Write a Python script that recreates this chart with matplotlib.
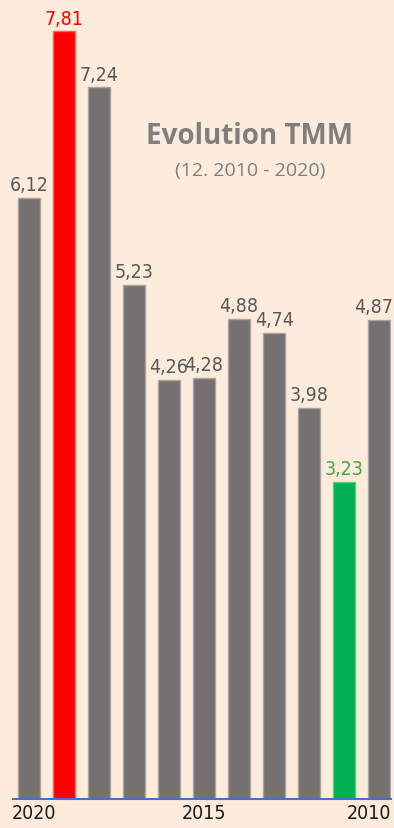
import matplotlib
matplotlib.use("Agg")
import matplotlib.pyplot as plt
from matplotlib.transforms import ScaledTranslation

years = ["2020", "", "", "", "", "2015", "", "", "", "", "2010"]
values = [6.12, 7.81, 7.24, 5.23, 4.26, 4.28, 4.88, 4.74, 3.98, 3.23, 4.87]
labels = ["6,12", "7,81", "7,24", "5,23", "4,26", "4,28", "4,88", "4,74", "3,98", "3,23", "4,87"]
bar_colors = ["#767171", "#FF0000", "#767171", "#767171", "#767171", "#767171",
              "#767171", "#767171", "#767171", "#00B050", "#767171"]
label_colors = ["#595959", "#FF0000", "#595959", "#595959", "#595959", "#595959",
                "#595959", "#595959", "#595959", "#3DAE3D", "#595959"]
edge_colors = ["#A6A6A6", "#FF6060", "#A6A6A6", "#A6A6A6", "#A6A6A6", "#A6A6A6",
               "#A6A6A6", "#A6A6A6", "#A6A6A6", "#50D080", "#A6A6A6"]

bg = "#FDECDC"
narrow = ["DejaVu Sans"]

fig = plt.figure(figsize=(3.94, 8.29), dpi=100, facecolor=bg)
ax = fig.add_axes([13/394, (829-800)/829, (391-13)/394, 800/829])
ax.set_facecolor(bg)

x = list(range(len(values)))
ax.bar(x, values, width=0.63, color=bar_colors, edgecolor=edge_colors, linewidth=1.0, zorder=2)
for i, (xi, v, lab, c) in enumerate(zip(x, values, labels, label_colors)):
    t = ax.text(xi, v + 0.04, lab, ha="center", va="bottom", fontsize=14, color=c,
                family=narrow, fontstretch="condensed", clip_on=False)
    if i == len(values) - 1:
        t.set_transform(ax.transData + ScaledTranslation(-5/100, 0, fig.dpi_scale_trans))

ax.set_xlim(-0.457, 10.34)
ax.set_ylim(0, 8.14)
for s in ["top", "right", "left"]:
    ax.spines[s].set_visible(False)
ax.spines["bottom"].set_color("#4472C4")
ax.spines["bottom"].set_linewidth(1.5)
ax.set_yticks([])
ax.set_xticks(x)
ax.set_xticklabels(years, fontsize=14, color="#1a1a1a", family=narrow, fontstretch="condensed")
ax.tick_params(axis="x", length=0, pad=3)
tls = ax.get_xticklabels()
tls[0].set_transform(tls[0].get_transform() + ScaledTranslation(5/100, 0, fig.dpi_scale_trans))
tls[-1].set_transform(tls[-1].get_transform() + ScaledTranslation(-10/100, 0, fig.dpi_scale_trans))

fig.text(250/394, 1 - 137/829, "Evolution TMM", ha="center", va="center",
         fontsize=20, fontweight="bold", color="#7F7F7F", family=["Open Sans", "DejaVu Sans"])
fig.text(250/394, 1 - 171/829, "(12. 2010 - 2020)", ha="center", va="center",
         fontsize=14, color="#7F7F7F", family=["Open Sans", "DejaVu Sans"])

fig.savefig("out.png", dpi=100, facecolor=bg)
